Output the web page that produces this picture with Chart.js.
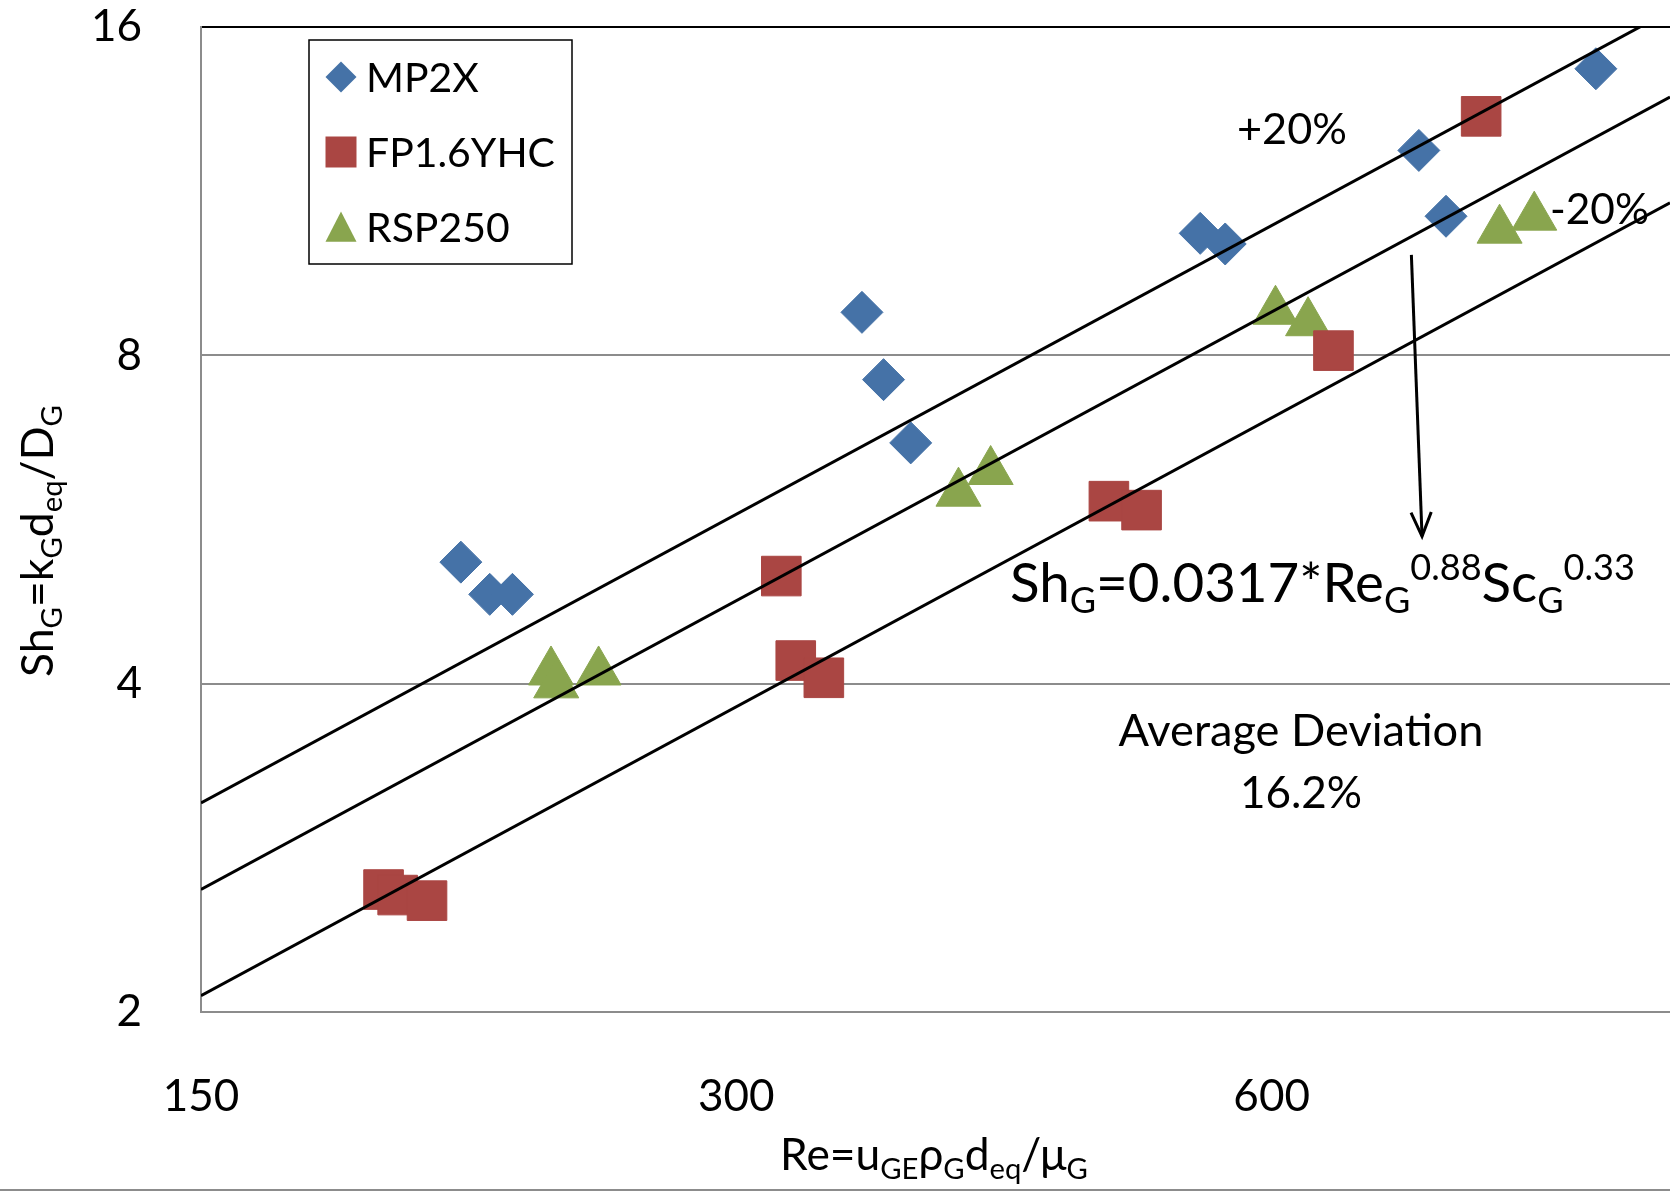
<!DOCTYPE html>
<html>
<head>
<meta charset="utf-8">
<script src="https://cdn.jsdelivr.net/npm/chart.js@4.4.0/dist/chart.umd.min.js"></script>
<style>
  html, body { margin: 0; padding: 0; background: #fff; }
  #wrap { width: 1670px; height: 1192px; }
</style>
</head>
<body>
<div id="wrap"><canvas id="shChart" width="1670" height="1192"></canvas></div>
<script>
const xTicks = [150, 300, 600];
const yTicks = [2, 4, 8, 16];

const mp2xRe = [210, 218, 224.5, 353, 363, 376, 547, 565, 726, 752, 913];
const mp2xSh = [5.17, 4.83, 4.83, 8.76, 7.60, 6.65, 10.35, 10.12, 12.33, 10.73, 14.65];

const fpRe = [190, 193.5, 201, 318, 324, 336, 486, 507, 650, 787];
const fpSh = [2.59, 2.56, 2.53, 5.02, 4.20, 4.05, 5.88, 5.77, 8.08, 13.25];

const rspRe = [236, 237.6, 251, 400, 417, 603, 629, 806, 843];
const rspSh = [4.10, 3.99, 4.10, 5.98, 6.26, 8.78, 8.57, 10.42, 10.71];

// correlation line and +/-20% band, read at both ends of the axis
const fitRe = [150, 1005];
const fitMid = [2.59, 13.8];
const fitUp = [3.11, 16.56];
const fitLow = [2.07, 11.04];

const BLUE = '#4572A7', RED = '#AA4643', GREEN = '#89A54E';
const FONT = 'Lato, "Open Sans", sans-serif';

const pts = (xs, ys) => xs.map((x, i) => ({ x: x, y: ys[i] }));

function fitLine(ys) {
  return { data: pts(fitRe, ys), showLine: true, borderColor: '#000', borderWidth: 3,
           pointRadius: 0, order: 0, fill: false };
}

// text with sub/superscripts; segs = [[text, kind]] kind 0 normal, 1 sub, 2 sup
function drawRich(ctx, segs, x, y, size, align, targetW) {
  const f = (k, s) => (k ? s * 0.66 : s) + 'px ' + FONT;
  const widthAt = s => segs.reduce((w, [t, k]) => { ctx.font = f(k, s); return w + ctx.measureText(t).width; }, 0);
  if (targetW) size = size * targetW / widthAt(size);
  const w = widthAt(size);
  let cx = align === 'center' ? x - w / 2 : x;
  ctx.textBaseline = 'alphabetic';
  ctx.textAlign = 'left';
  segs.forEach(([t, k]) => {
    ctx.font = f(k, size);
    const dy = k === 1 ? size * 0.2 : k === 2 ? -size * 0.4 : 0;
    ctx.fillText(t, cx, y + dy);
    cx += ctx.measureText(t).width;
  });
  return size;
}

function marker(ctx, style, x, y, r, color) {
  ctx.fillStyle = color;
  ctx.beginPath();
  if (style === 'rectRot') {
    ctx.moveTo(x, y - r); ctx.lineTo(x + r, y); ctx.lineTo(x, y + r); ctx.lineTo(x - r, y);
  } else if (style === 'rect') {
    ctx.rect(x - r, y - r, 2 * r, 2 * r);
  } else {
    ctx.moveTo(x, y - r); ctx.lineTo(x + r, y + r * 0.95); ctx.lineTo(x - r, y + r * 0.95);
  }
  ctx.closePath();
  ctx.fill();
}

const annotate = {
  id: 'annotate',
  afterDraw(chart) {
    const ctx = chart.ctx;
    const xs = chart.scales.x, ys = chart.scales.y;
    ctx.save();
    ctx.fillStyle = '#000';

    // outer frame bottom line
    ctx.strokeStyle = '#8c8c8c';
    ctx.lineWidth = 2;
    ctx.beginPath(); ctx.moveTo(0, 1190); ctx.lineTo(1670, 1190); ctx.stroke();

    // legend
    ctx.strokeStyle = '#000';
    ctx.lineWidth = 1.5;
    ctx.fillStyle = '#fff';
    ctx.fillRect(309, 40, 263, 224);
    ctx.strokeRect(309, 40, 263, 224);
    ctx.font = '42px ' + FONT;
    const lsize = 42 * 189 / ctx.measureText('FP1.6YHC').width;
    const items = [['MP2X', 'rectRot', BLUE], ['FP1.6YHC', 'rect', RED], ['RSP250', 'tri', GREEN]];
    items.forEach(([name, st, col], i) => {
      const y = 77 + i * 75;
      marker(ctx, st, 341, y, 15.5, col);
      ctx.fillStyle = '#000';
      ctx.font = lsize + 'px ' + FONT;
      ctx.textBaseline = 'middle';
      ctx.textAlign = 'left';
      ctx.fillText(name, 366, y + 2);
    });

    ctx.fillStyle = '#000';
    drawRich(ctx, [['+20%', 0]], 1292, 144, 44, 'center', 110);
    drawRich(ctx, [['-20%', 0]], 1550, 224, 44, 'left', 99);
    drawRich(ctx, [['Average Deviation', 0]], 1301, 746, 44, 'center', 365);
    drawRich(ctx, [['16.2%', 0]], 1301, 808, 44, 'center');
    drawRich(ctx, [['Sh', 0], ['G', 1], ['=0.0317*Re', 0], ['G', 1], ['0.88', 2], ['Sc', 0], ['G', 1], ['0.33', 2]],
             1010, 602, 56, 'left', 625);

    // arrow from the correlation line down to the equation
    const x1 = xs.getPixelForValue(719), y1 = ys.getPixelForValue(9.89);
    const x2 = xs.getPixelForValue(729), y2 = ys.getPixelForValue(5.46);
    ctx.strokeStyle = '#000';
    ctx.lineWidth = 3;
    ctx.beginPath(); ctx.moveTo(x1, y1); ctx.lineTo(x2, y2); ctx.stroke();
    const ang = Math.atan2(y2 - y1, x2 - x1);
    ctx.beginPath();
    ctx.moveTo(x2 - 26 * Math.cos(ang - 0.4), y2 - 26 * Math.sin(ang - 0.4));
    ctx.lineTo(x2, y2);
    ctx.lineTo(x2 - 26 * Math.cos(ang + 0.4), y2 - 26 * Math.sin(ang + 0.4));
    ctx.stroke();

    // axis titles
    drawRich(ctx, [['Re=u', 0], ['GE', 1], ['\u03C1', 0], ['G', 1], ['d', 0], ['eq', 1], ['/\u03BC', 0], ['G', 1]],
             934, 1170, 38, 'center', 308);
    ctx.save();
    ctx.translate(53, 541);
    ctx.rotate(-Math.PI / 2);
    drawRich(ctx, [['Sh', 0], ['G', 1], ['=k', 0], ['G', 1], ['d', 0], ['eq', 1], ['/D', 0], ['G', 1]],
             0, 0, 38, 'center', 272);
    ctx.restore();

    ctx.restore();
  }
};

new Chart(document.getElementById('shChart'), {
  type: 'scatter',
  data: {
    datasets: [
      fitLine(fitUp),
      fitLine(fitMid),
      fitLine(fitLow),
      { label: 'MP2X', data: pts(mp2xRe, mp2xSh), pointStyle: 'rectRot', pointRadius: 21,
        backgroundColor: BLUE, borderColor: BLUE, borderWidth: 1, order: 1 },
      { label: 'FP1.6YHC', data: pts(fpRe, fpSh), pointStyle: 'rect', pointRadius: 28,
        backgroundColor: RED, borderColor: RED, borderWidth: 1, order: 1 },
      { label: 'RSP250', data: pts(rspRe, rspSh), pointStyle: 'triangle', pointRadius: 26,
        backgroundColor: GREEN, borderColor: GREEN, borderWidth: 1, order: 1 }
    ]
  },
  options: {
    responsive: false,
    animation: false,
    devicePixelRatio: 1,
    layout: { autoPadding: false, padding: { top: 27, right: 0, left: 0, bottom: 0 } },
    plugins: { legend: { display: false }, tooltip: { enabled: false } },
    scales: {
      x: {
        type: 'logarithmic',
        min: 150,
        max: 1005,
        afterBuildTicks: s => { s.ticks = xTicks.map(v => ({ value: v })); },
        afterFit: s => { s.height = 180; s.paddingLeft = 0; s.paddingRight = 0; },
        grid: { display: false },
        border: { display: true, color: '#8c8c8c', width: 2 },
        ticks: { color: '#000', font: { family: FONT, size: 44 }, padding: 50,
                 maxRotation: 0, autoSkip: false, callback: v => String(v) }
      },
      y: {
        type: 'logarithmic',
        min: 2,
        max: 16,
        afterBuildTicks: s => { s.ticks = yTicks.map(v => ({ value: v })); },
        afterFit: s => { s.width = 201; s.paddingTop = 0; s.paddingBottom = 0; },
        grid: { color: c => (c.tick && c.tick.value === 16 ? '#000' : '#8c8c8c'), lineWidth: 2, drawTicks: false },
        border: { display: true, color: '#8c8c8c', width: 2 },
        ticks: { color: '#000', font: { family: FONT, size: 44 }, padding: 59,
                 autoSkip: false, callback: v => String(v) }
      }
    }
  },
  plugins: [annotate]
});
</script>
</body>
</html>
